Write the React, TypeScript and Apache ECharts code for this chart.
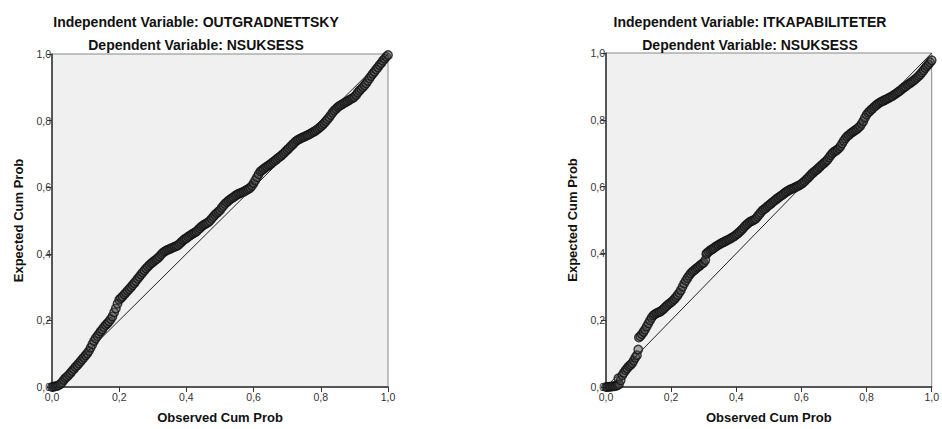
import React, { useEffect, useRef } from "react";
import * as echarts from "echarts";

// ---- data: [observed cum prob, expected cum prob] ----
const leftPoints = [
  [0.000, 0.000], [0.005, 0.001], [0.010, 0.002], [0.015, 0.003], [0.020, 0.005],
  [0.025, 0.009], [0.030, 0.014], [0.035, 0.021], [0.040, 0.027], [0.045, 0.031],
  [0.050, 0.036], [0.055, 0.042], [0.060, 0.048], [0.065, 0.054], [0.070, 0.060],
  [0.075, 0.065], [0.080, 0.071], [0.085, 0.077], [0.090, 0.083], [0.095, 0.089],
  [0.100, 0.095], [0.105, 0.101], [0.110, 0.108], [0.115, 0.118], [0.120, 0.128],
  [0.125, 0.138], [0.130, 0.146], [0.135, 0.153], [0.140, 0.160], [0.145, 0.167],
  [0.150, 0.173], [0.155, 0.180], [0.160, 0.186], [0.165, 0.191], [0.170, 0.197],
  [0.175, 0.204], [0.180, 0.212], [0.185, 0.224], [0.190, 0.236], [0.195, 0.250],
  [0.200, 0.262], [0.205, 0.267], [0.210, 0.272], [0.215, 0.278], [0.220, 0.283],
  [0.225, 0.289], [0.230, 0.294], [0.235, 0.300], [0.240, 0.306], [0.245, 0.312],
  [0.250, 0.318], [0.255, 0.325], [0.260, 0.331], [0.265, 0.338], [0.270, 0.344],
  [0.275, 0.350], [0.280, 0.356], [0.285, 0.361], [0.290, 0.366], [0.295, 0.371],
  [0.300, 0.375], [0.305, 0.379], [0.310, 0.383], [0.315, 0.387], [0.320, 0.392],
  [0.325, 0.398], [0.330, 0.403], [0.335, 0.407], [0.340, 0.410], [0.345, 0.412],
  [0.350, 0.414], [0.355, 0.417], [0.360, 0.419], [0.365, 0.421], [0.370, 0.423],
  [0.375, 0.426], [0.380, 0.430], [0.385, 0.435], [0.390, 0.440], [0.395, 0.444],
  [0.400, 0.447], [0.405, 0.451], [0.410, 0.454], [0.415, 0.458], [0.420, 0.461],
  [0.425, 0.464], [0.430, 0.467], [0.435, 0.472], [0.440, 0.477], [0.445, 0.482],
  [0.450, 0.486], [0.455, 0.489], [0.460, 0.492], [0.465, 0.495], [0.470, 0.499],
  [0.475, 0.505], [0.480, 0.511], [0.485, 0.517], [0.490, 0.522], [0.495, 0.526],
  [0.500, 0.531], [0.505, 0.538], [0.510, 0.544], [0.515, 0.550], [0.520, 0.555],
  [0.525, 0.559], [0.530, 0.563], [0.535, 0.567], [0.540, 0.570], [0.545, 0.574],
  [0.550, 0.577], [0.555, 0.580], [0.560, 0.582], [0.565, 0.584], [0.570, 0.586],
  [0.575, 0.589], [0.580, 0.592], [0.585, 0.595], [0.590, 0.598], [0.595, 0.604],
  [0.600, 0.612], [0.605, 0.621], [0.610, 0.630], [0.615, 0.639], [0.620, 0.647],
  [0.625, 0.651], [0.630, 0.655], [0.635, 0.659], [0.640, 0.662], [0.645, 0.666],
  [0.650, 0.669], [0.655, 0.673], [0.660, 0.677], [0.665, 0.681], [0.670, 0.685],
  [0.675, 0.689], [0.680, 0.693], [0.685, 0.697], [0.690, 0.702], [0.695, 0.707],
  [0.700, 0.712], [0.705, 0.717], [0.710, 0.722], [0.715, 0.727], [0.720, 0.732],
  [0.725, 0.737], [0.730, 0.741], [0.735, 0.744], [0.740, 0.746], [0.745, 0.749],
  [0.750, 0.751], [0.755, 0.754], [0.760, 0.756], [0.765, 0.758], [0.770, 0.761],
  [0.775, 0.764], [0.780, 0.767], [0.785, 0.770], [0.790, 0.774], [0.795, 0.778],
  [0.800, 0.782], [0.805, 0.787], [0.810, 0.792], [0.815, 0.798], [0.820, 0.804],
  [0.825, 0.810], [0.830, 0.817], [0.835, 0.824], [0.840, 0.830], [0.845, 0.835],
  [0.850, 0.840], [0.855, 0.844], [0.860, 0.847], [0.865, 0.850], [0.870, 0.853],
  [0.875, 0.856], [0.880, 0.859], [0.885, 0.862], [0.890, 0.865], [0.895, 0.868],
  [0.900, 0.871], [0.905, 0.877], [0.910, 0.884], [0.915, 0.890], [0.920, 0.895],
  [0.925, 0.900], [0.930, 0.906], [0.935, 0.912], [0.940, 0.919], [0.945, 0.927],
  [0.950, 0.934], [0.955, 0.941], [0.960, 0.947], [0.965, 0.954], [0.970, 0.960],
  [0.975, 0.967], [0.980, 0.973], [0.985, 0.980], [0.990, 0.986], [0.995, 0.992],
  [1.000, 0.997],
];

const rightPoints = [
  [0.000, 0.000], [0.005, 0.000], [0.010, 0.001], [0.015, 0.001], [0.020, 0.002],
  [0.025, 0.002], [0.030, 0.003], [0.035, 0.005], [0.038, 0.026], [0.040, 0.008],
  [0.045, 0.020], [0.050, 0.035], [0.055, 0.043], [0.060, 0.050], [0.065, 0.056],
  [0.070, 0.062], [0.075, 0.066], [0.080, 0.071], [0.085, 0.079], [0.090, 0.088],
  [0.095, 0.095], [0.099, 0.112], [0.101, 0.148], [0.105, 0.152], [0.110, 0.158],
  [0.115, 0.165], [0.120, 0.172], [0.125, 0.181], [0.130, 0.190], [0.135, 0.199],
  [0.140, 0.207], [0.145, 0.214], [0.150, 0.218], [0.155, 0.221], [0.160, 0.223],
  [0.165, 0.225], [0.170, 0.228], [0.175, 0.232], [0.180, 0.237], [0.185, 0.242],
  [0.190, 0.246], [0.195, 0.250], [0.200, 0.254], [0.205, 0.258], [0.210, 0.263],
  [0.215, 0.269], [0.220, 0.275], [0.225, 0.282], [0.230, 0.290], [0.235, 0.300],
  [0.240, 0.310], [0.245, 0.318], [0.250, 0.326], [0.255, 0.333], [0.260, 0.340],
  [0.265, 0.345], [0.270, 0.349], [0.275, 0.353], [0.280, 0.357], [0.285, 0.361],
  [0.290, 0.365], [0.295, 0.369], [0.300, 0.372], [0.305, 0.380], [0.308, 0.398],
  [0.310, 0.401], [0.315, 0.405], [0.320, 0.409], [0.325, 0.412], [0.330, 0.415],
  [0.335, 0.419], [0.340, 0.422], [0.345, 0.425], [0.350, 0.428], [0.355, 0.431],
  [0.360, 0.433], [0.365, 0.436], [0.370, 0.438], [0.375, 0.441], [0.380, 0.443],
  [0.385, 0.446], [0.390, 0.449], [0.395, 0.452], [0.400, 0.456], [0.405, 0.460],
  [0.410, 0.464], [0.415, 0.469], [0.420, 0.474], [0.425, 0.480], [0.430, 0.485],
  [0.435, 0.489], [0.440, 0.493], [0.445, 0.496], [0.450, 0.498], [0.455, 0.501],
  [0.460, 0.504], [0.465, 0.510], [0.470, 0.516], [0.475, 0.522], [0.480, 0.528],
  [0.485, 0.532], [0.490, 0.535], [0.495, 0.540], [0.500, 0.544], [0.505, 0.548],
  [0.510, 0.552], [0.515, 0.556], [0.520, 0.560], [0.525, 0.564], [0.530, 0.567],
  [0.535, 0.571], [0.540, 0.574], [0.545, 0.578], [0.550, 0.582], [0.555, 0.585],
  [0.560, 0.588], [0.565, 0.591], [0.570, 0.593], [0.575, 0.595], [0.580, 0.597],
  [0.585, 0.600], [0.590, 0.602], [0.595, 0.605], [0.600, 0.608], [0.605, 0.612],
  [0.610, 0.616], [0.615, 0.621], [0.620, 0.626], [0.625, 0.631], [0.630, 0.636],
  [0.635, 0.641], [0.640, 0.645], [0.645, 0.649], [0.650, 0.653], [0.655, 0.658],
  [0.660, 0.662], [0.665, 0.667], [0.670, 0.671], [0.675, 0.676], [0.680, 0.680],
  [0.685, 0.687], [0.690, 0.694], [0.695, 0.700], [0.700, 0.704], [0.705, 0.707],
  [0.710, 0.710], [0.715, 0.715], [0.720, 0.721], [0.725, 0.729], [0.730, 0.737],
  [0.735, 0.744], [0.740, 0.750], [0.745, 0.754], [0.750, 0.758], [0.755, 0.762],
  [0.760, 0.765], [0.765, 0.769], [0.770, 0.772], [0.775, 0.776], [0.780, 0.781],
  [0.785, 0.788], [0.790, 0.796], [0.795, 0.806], [0.800, 0.815], [0.805, 0.821],
  [0.810, 0.826], [0.815, 0.831], [0.820, 0.835], [0.825, 0.840], [0.830, 0.844],
  [0.835, 0.848], [0.840, 0.851], [0.845, 0.854], [0.850, 0.856], [0.855, 0.859],
  [0.860, 0.861], [0.865, 0.864], [0.870, 0.866], [0.875, 0.869], [0.880, 0.871],
  [0.885, 0.875], [0.890, 0.878], [0.895, 0.882], [0.900, 0.885], [0.905, 0.889],
  [0.910, 0.893], [0.915, 0.897], [0.920, 0.900], [0.925, 0.904], [0.930, 0.907],
  [0.935, 0.911], [0.940, 0.914], [0.945, 0.918], [0.950, 0.922], [0.955, 0.926],
  [0.960, 0.931], [0.965, 0.936], [0.970, 0.942], [0.975, 0.948], [0.980, 0.955],
  [0.985, 0.961], [0.990, 0.966], [0.995, 0.972], [1.000, 0.978],
];

const referenceLine = [
  [0, 0],
  [1, 1],
];

const leftTitles = ["Independent Variable: OUTGRADNETTSKY", "Dependent Variable: NSUKSESS"];
const rightTitles = ["Independent Variable: ITKAPABILITETER", "Dependent Variable: NSUKSESS"];
const xAxisName = "Observed Cum Prob";
const yAxisName = "Expected Cum Prob";
const axisMin = 0;
const axisMax = 1;
const axisStep = 0.2;

const FONT = "'Liberation Sans', Arial, sans-serif";

export default function App() {
  const ref = useRef<HTMLDivElement>(null);

  useEffect(() => {
    if (!ref.current) return;
    const chart = echarts.init(ref.current, undefined, { renderer: "svg" });

    const fmt = (v: number) => v.toFixed(1).replace(".", ",");

    const makeX = (gridIndex: number) => ({
      type: "value",
      gridIndex,
      min: axisMin,
      max: axisMax,
      interval: axisStep,
      name: xAxisName,
      nameLocation: "middle",
      nameGap: 24,
      nameTextStyle: { fontFamily: FONT, fontWeight: "bold", fontSize: 13, color: "#111" },
      axisLine: { show: true, lineStyle: { color: "#333", width: 1.5 } },
      axisTick: { show: true, length: 5, lineStyle: { color: "#333", width: 1 } },
      axisLabel: { formatter: fmt, fontFamily: FONT, fontSize: 10.5, color: "#333", margin: 4 },
      splitLine: { show: false },
    });
    const makeY = (gridIndex: number) => ({
      type: "value",
      gridIndex,
      min: axisMin,
      max: axisMax,
      interval: axisStep,
      name: yAxisName,
      nameLocation: "middle",
      nameGap: 27,
      nameTextStyle: { fontFamily: FONT, fontWeight: "bold", fontSize: 13, color: "#111" },
      axisLine: { show: true, lineStyle: { color: "#333", width: 1.5 } },
      axisTick: { show: true, length: 5, lineStyle: { color: "#333", width: 1 } },
      axisLabel: {
        formatter: fmt,
        fontFamily: FONT,
        fontSize: 10.5,
        color: "#333",
        margin: 1,
        padding: [0, 0, 3, 0],
      },
      splitLine: { show: false },
    });

    const scatterStyle = {
      color: "rgba(70,70,70,0.55)",
      borderColor: "#111",
      borderWidth: 1.4,
    };

    const titleText = (text: string, x: number, y: number) => ({
      type: "text",
      x,
      y,
      style: {
        text,
        align: "center",
        verticalAlign: "middle",
        fontFamily: FONT,
        fontSize: 14,
        fontWeight: "bold",
        fill: "#111",
      },
    });

    chart.setOption({
      animation: false,
      grid: [
        { left: 52, top: 54, width: 336, height: 337, show: true, backgroundColor: "#f0f0f0", borderColor: "#888", borderWidth: 1 },
        { left: 606, top: 53, width: 338, height: 338, show: true, backgroundColor: "#f0f0f0", borderColor: "#888", borderWidth: 1 },
      ],
      xAxis: [makeX(0), makeX(1)],
      yAxis: [makeY(0), makeY(1)],
      graphic: [
        titleText(leftTitles[0], 196, 22),
        titleText(leftTitles[1], 196, 45),
        titleText(rightTitles[0], 750, 22),
        titleText(rightTitles[1], 750, 45),
      ],
      series: [
        {
          type: "line",
          xAxisIndex: 0,
          yAxisIndex: 0,
          data: referenceLine,
          symbol: "none",
          lineStyle: { color: "#222", width: 1 },
          silent: true,
        },
        {
          type: "scatter",
          xAxisIndex: 0,
          yAxisIndex: 0,
          data: leftPoints,
          symbol: "circle",
          symbolSize: 8.5,
          itemStyle: scatterStyle,
          clip: false,
        },
        {
          type: "line",
          xAxisIndex: 1,
          yAxisIndex: 1,
          data: referenceLine,
          symbol: "none",
          lineStyle: { color: "#222", width: 1 },
          silent: true,
        },
        {
          type: "scatter",
          xAxisIndex: 1,
          yAxisIndex: 1,
          data: rightPoints,
          symbol: "circle",
          symbolSize: 8.5,
          itemStyle: scatterStyle,
          clip: false,
        },
      ],
    });

    return () => chart.dispose();
  }, []);

  return (
    <div
      ref={ref}
      style={{ position: "fixed", left: 0, top: 0, width: 942, height: 429, background: "#fff" }}
    />
  );
}
